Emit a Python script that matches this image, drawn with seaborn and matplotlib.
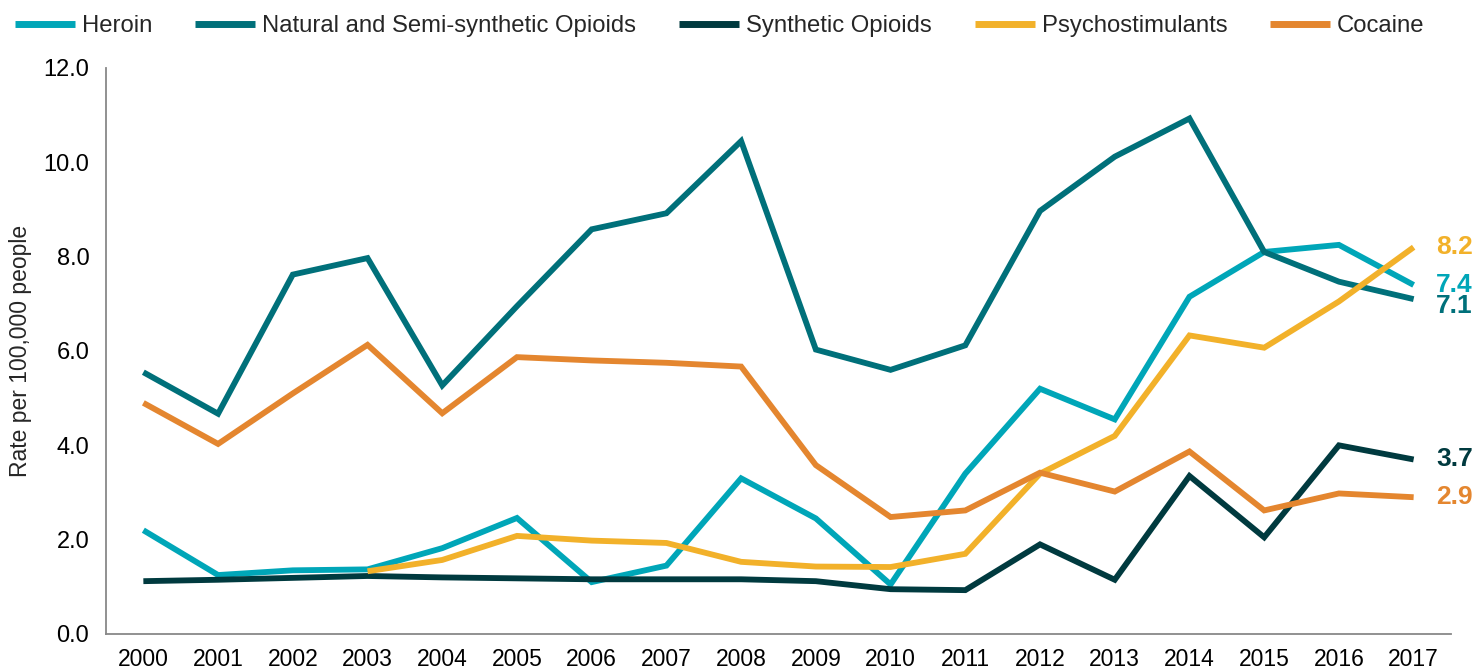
import numpy as np
import pandas as pd
import matplotlib
matplotlib.use("Agg")
import matplotlib.pyplot as plt
import seaborn as sns

years = list(range(2000, 2018))

heroin = [2.2, 1.25, 1.35, 1.37, 1.82, 2.46, 1.1, 1.45, 3.3, 2.45, 1.05, 3.4,
          5.2, 4.55, 7.15, 8.1, 8.25, 7.4]
natural = [5.55, 4.67, 7.62, 7.97, 5.27, 6.95, 8.58, 8.92, 10.45, 6.03, 5.6, 6.12,
           8.97, 10.12, 10.93, 8.1, 7.47, 7.1]
synthetic = [1.12, 1.15, 1.19, 1.23, 1.2, 1.18, 1.16, 1.16, 1.16, 1.12, 0.95, 0.93,
             1.9, 1.15, 3.35, 2.05, 4.0, 3.7]
psycho = [np.nan, np.nan, np.nan, 1.33, 1.57, 2.08, 1.98, 1.93, 1.53, 1.43, 1.42, 1.7,
          3.4, 4.2, 6.33, 6.07, 7.05, 8.2]
cocaine = [4.9, 4.03, 5.1, 6.13, 4.68, 5.87, 5.8, 5.75, 5.67, 3.58, 2.48, 2.62,
           3.42, 3.02, 3.87, 2.62, 2.98, 2.9]

series_names = ["Heroin", "Natural and Semi-synthetic Opioids", "Synthetic Opioids",
                "Psychostimulants", "Cocaine"]
series_values = [heroin, natural, synthetic, psycho, cocaine]
colors = ["#00A6B8", "#00707A", "#003A3F", "#F2B12A", "#E4862F"]

# end-of-line value labels and their vertical nudges (in data units)
end_labels = ["7.4", "7.1", "3.7", "8.2", "2.9"]
label_offsets = [0.0, -0.15, 0.0, 0.0, 0.0]

rows = []
for name, vals in zip(series_names, series_values):
    for y, v in zip(years, vals):
        rows.append({"Year": y, "Series": name, "Rate": v})
df = pd.DataFrame(rows)

sns.set_style("white")
plt.rcParams["font.family"] = ["Liberation Sans", "DejaVu Sans"]

fig = plt.figure(figsize=(14.77, 6.71), dpi=100)
ax = fig.add_axes([106 / 1477, 1 - 634 / 671, (1451 - 106) / 1477, (634 - 68) / 671])

sns.lineplot(data=df, x="Year", y="Rate", hue="Series", hue_order=series_names,
             palette=colors, linewidth=4.2, ax=ax, legend=True, sort=True)
for line in ax.get_lines():
    line.set_solid_joinstyle("miter")
    line.set_solid_capstyle("butt")

ax.set_xlim(1999.5, 2017.5)
ax.set_ylim(0, 12)
ax.set_xticks(years)
ax.set_xticklabels([str(y) for y in years], fontsize=16.5)
ax.set_yticks(np.arange(0, 12.1, 2))
ax.set_yticklabels([f"{v:.1f}" for v in np.arange(0, 12.1, 2)], fontsize=17)
ax.set_xlabel("")
ax.set_ylabel("Rate per 100,000 people", fontsize=16.5, labelpad=8)

for side in ["top", "right"]:
    ax.spines[side].set_visible(False)
for side in ["left", "bottom"]:
    ax.spines[side].set_color("#888888")
    ax.spines[side].set_linewidth(1.3)
ax.tick_params(axis="both", which="major", direction="out", length=5, width=1.3,
               color="#888888", labelcolor="#000000")
ax.tick_params(axis="x", pad=5)
ax.tick_params(axis="y", pad=7)

for vals, lab, off, c in zip(series_values, end_labels, label_offsets, colors):
    ax.text(years[-1] + 0.3, vals[-1] + off, lab, color=c, fontsize=19,
            fontweight="bold", va="center", ha="left", clip_on=False)

handles, labels = ax.get_legend_handles_labels()
leg = ax.legend(handles, labels, loc="center left",
                bbox_to_anchor=(-91 / 1345, 1 + 42 / 566),
                ncol=5, frameon=False, fontsize=17.2, handlelength=2.5,
                handletextpad=0.3, columnspacing=1.8, borderaxespad=0, borderpad=0)
for line in leg.get_lines():
    line.set_linewidth(5)
    line.set_solid_capstyle("butt")

fig.savefig("out.png", dpi=100)
